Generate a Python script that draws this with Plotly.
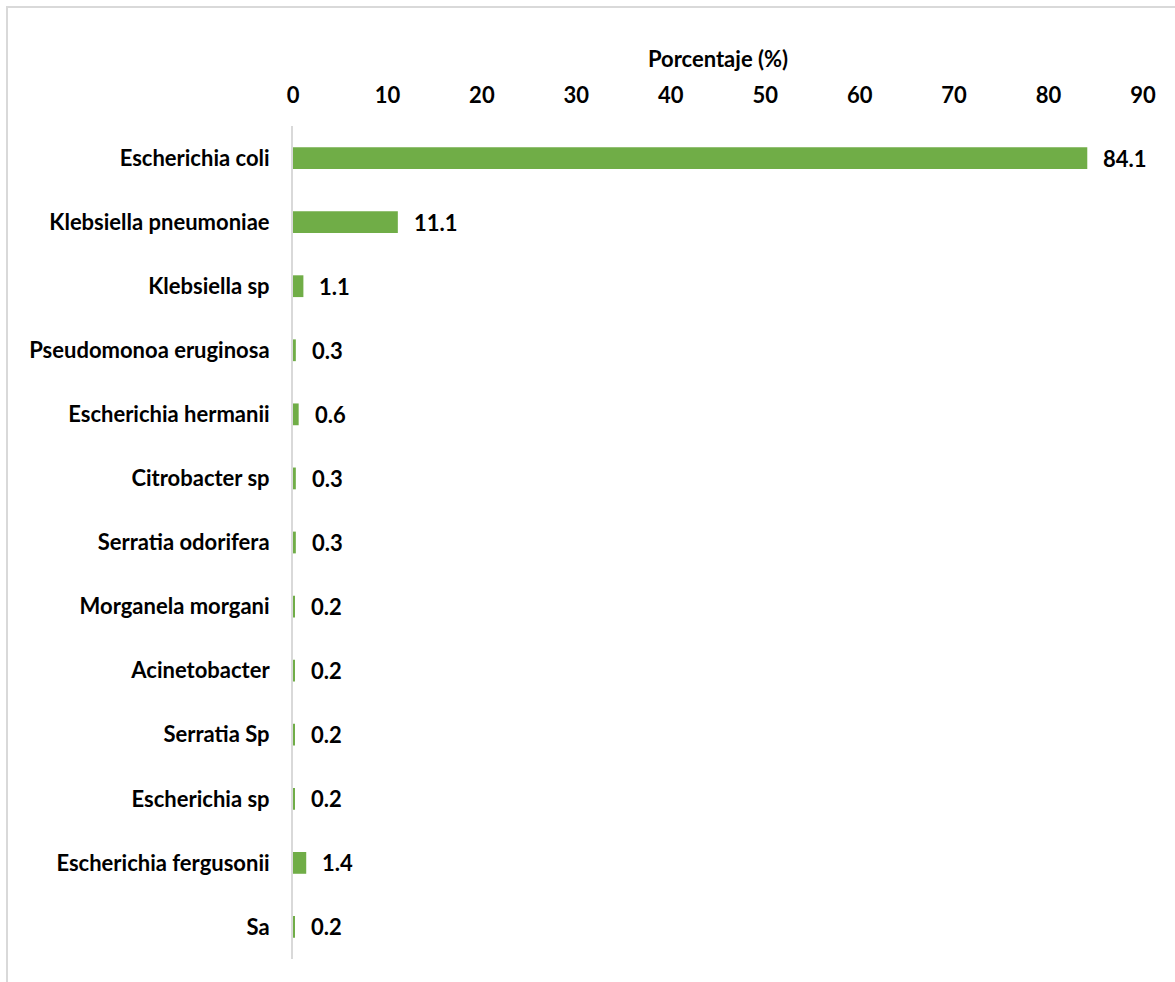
import plotly.graph_objects as go

categories = ["Escherichia coli", "Klebsiella pneumoniae", "Klebsiella sp",
              "Pseudomonoa eruginosa", "Escherichia hermanii", "Citrobacter sp",
              "Serratia odorifera", "Morganela morgani", "Acinetobacter",
              "Serratia Sp", "Escherichia sp", "Escherichia fergusonii", "Sa"]
values = [84.1, 11.1, 1.1, 0.3, 0.6, 0.3, 0.3, 0.2, 0.2, 0.2, 0.2, 1.4, 0.2]
x_ticks = [0, 10, 20, 30, 40, 50, 60, 70, 80, 90]

FONT = "Lato"
FS = 22
fig = go.Figure(go.Bar(
    x=values, y=categories, orientation="h",
    marker=dict(color="#70AD47", line=dict(width=0)),
    width=0.34, hoverinfo="x+y",
))

for c, v in zip(categories, values):
    fig.add_annotation(x=v, y=c, text=f"<b>{v:.1f}</b>", showarrow=False,
                       xanchor="left", xshift=14, font=dict(family=FONT, size=FS, color="black"))

fig.update_layout(
    width=1175, height=982,
    margin=dict(l=293, r=32, t=126, b=23),
    paper_bgcolor="white", plot_bgcolor="white",
    showlegend=False,
    font=dict(family=FONT, size=FS, color="black"),
    xaxis=dict(side="top", range=[0, 90], tickvals=x_ticks,
               tickfont=dict(family=FONT, size=FS, weight="bold"),
               showgrid=False, zeroline=False, showline=False, ticks="",
               ticklabelstandoff=18,
               title=dict(text="<b>Porcentaje (%)</b>", font=dict(family=FONT, size=FS), standoff=6),
               automargin=False),
    yaxis=dict(categoryorder="array", categoryarray=categories, autorange="reversed",
               tickfont=dict(family=FONT, size=FS, weight="bold"),
               showgrid=False, zeroline=False, showline=True, linecolor="#D9D9D9", linewidth=2,
               ticks="", ticklabelstandoff=17, automargin=False),
)

# chart-area border (light grey), partly outside the page like the reference
px_w, px_h = 850.0, 833.0
left = (7 - 293) / px_w
top = 1 + (126 - 7) / px_h
right = (1200 - 293) / px_w
bottom = -(1000 - 959) / px_h
fig.add_shape(type="rect", xref="paper", yref="paper", x0=left, x1=right, y0=bottom, y1=top,
              line=dict(color="#D9D9D9", width=2), layer="below")

fig.write_html("out.html")
